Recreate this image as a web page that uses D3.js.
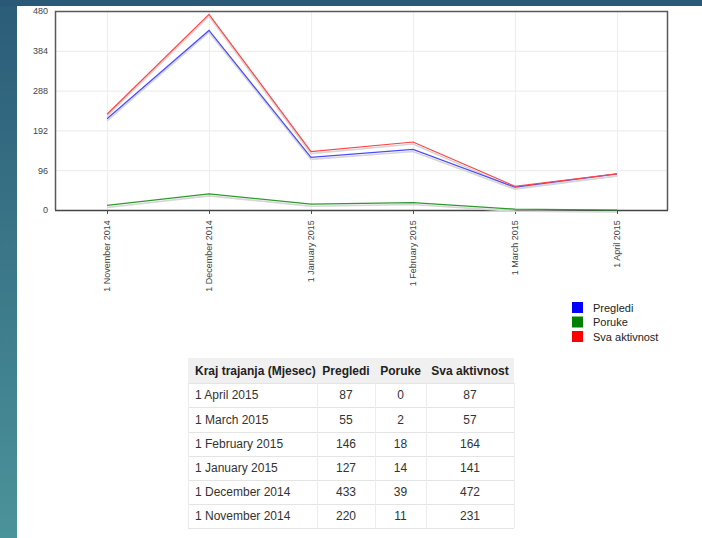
<!DOCTYPE html>
<html>
<head>
<meta charset="utf-8">
<script src="https://cdn.jsdelivr.net/npm/d3@7"></script>
<style>
  html, body { margin: 0; padding: 0; }
  body { width: 702px; height: 538px; overflow: hidden; font-family: "Liberation Sans", Arial, sans-serif; }
</style>
</head>
<body>
<svg id="chart" width="702" height="538"></svg>
<script>
// Monthly activity, chronological order
const months = ["1 November 2014", "1 December 2014", "1 January 2015", "1 February 2015", "1 March 2015", "1 April 2015"];
const pregledi = [220, 433, 127, 146, 55, 87];
const poruke = [11, 39, 14, 18, 2, 0];
const svaAktivnost = [231, 472, 141, 164, 57, 87];
const yTicks = [0, 96, 192, 288, 384, 480];
const tableHeaders = ["Kraj trajanja (Mjesec)", "Pregledi", "Poruke", "Sva aktivnost"];

const seriesDefs = [
  { name: "Pregledi", values: pregledi, color: "#4a4aff" },
  { name: "Poruke", values: poruke, color: "#2e9a2e" },
  { name: "Sva aktivnost", values: svaAktivnost, color: "#ff4444" }
];
const legendColors = ["#0000ff", "#008000", "#ff0000"];

const svg = d3.select("#chart");

// Page background: dark top band, teal left strip, white page
const defs = svg.append("defs");
const grad = defs.append("linearGradient").attr("id", "strip").attr("x1", 0).attr("y1", 0).attr("x2", 0).attr("y2", 1);
grad.append("stop").attr("offset", "0%").attr("stop-color", "#2b5c78");
grad.append("stop").attr("offset", "100%").attr("stop-color", "#4b939a");
svg.append("rect").attr("x", 0).attr("y", 0).attr("width", 702).attr("height", 538).attr("fill", "#fff");
svg.append("rect").attr("x", 0).attr("y", 0).attr("width", 17).attr("height", 538).attr("fill", "url(#strip)");
svg.append("rect").attr("x", 0).attr("y", 0).attr("width", 702).attr("height", 6).attr("fill", "#2a5877");

const plot = { left: 55, top: 11, right: 668, bottom: 210 };

const x = d3.scalePoint().domain(months).range([107, 617]);
const y = d3.scaleLinear().domain([0, 480]).range([plot.bottom, plot.top]);

const g = svg.append("g");

// Grid
g.selectAll("line.hgrid").data(yTicks.slice(1)).join("line")
  .attr("x1", plot.left).attr("x2", plot.right)
  .attr("y1", d => y(d) + 0.5).attr("y2", d => y(d) + 0.5)
  .attr("stroke", "#eeeeee").attr("stroke-width", 1.2);
g.selectAll("line.vgrid").data(months).join("line")
  .attr("x1", d => x(d) + 0.5).attr("x2", d => x(d) + 0.5)
  .attr("y1", plot.top).attr("y2", plot.bottom)
  .attr("stroke", "#eeeeee").attr("stroke-width", 1.2);

// Y axis labels
const yAxis = d3.axisLeft(y).tickValues(yTicks).tickSize(0).tickPadding(7);
const yG = svg.append("g").attr("transform", `translate(${plot.left},0)`).call(yAxis);
yG.select(".domain").remove();
yG.selectAll("text").attr("font-size", 9).attr("fill", "#444").attr("font-family", "Liberation Sans, Arial, sans-serif");

// X axis
const xAxis = d3.axisBottom(x).tickSize(4).tickPadding(5);
const xG = svg.append("g").attr("transform", `translate(0,${plot.bottom})`).call(xAxis);
xG.select(".domain").remove();
xG.selectAll(".tick line").attr("stroke", "#555");
xG.selectAll("text")
  .attr("font-size", 9).attr("fill", "#444").attr("font-family", "Liberation Sans, Arial, sans-serif")
  .attr("transform", "rotate(-90)")
  .attr("text-anchor", "end")
  .attr("dx", "-0.8em").attr("dy", "0.32em")
  .attr("y", 0).attr("x", -3);

// Frame
svg.append("path")
  .attr("d", `M${plot.left + 0.5},${plot.bottom} V${plot.top + 0.5} H${plot.right - 0.5} V${plot.bottom}`)
  .attr("fill", "none").attr("stroke", "#5a5a5a").attr("stroke-width", 1.5);
svg.append("line")
  .attr("x1", plot.left).attr("x2", plot.right)
  .attr("y1", plot.bottom + 0.5).attr("y2", plot.bottom + 0.5)
  .attr("stroke", "#444").attr("stroke-width", 1.5);

// Series lines with soft drop shadows
const line = d3.line().x((d, i) => x(months[i])).y(d => y(d));
const shadowG = svg.append("g").attr("transform", "translate(0,2)");
seriesDefs.forEach(s => {
  shadowG.append("path").datum(s.values).attr("d", line)
    .attr("fill", "none").attr("stroke", "#d6d6d6").attr("stroke-width", 1.6);
});
const lineG = svg.append("g");
seriesDefs.forEach(s => {
  lineG.append("path").datum(s.values).attr("d", line)
    .attr("fill", "none").attr("stroke", s.color).attr("stroke-width", 1.2);
});

// Legend
const legend = svg.append("g").attr("transform", "translate(572,302)");
seriesDefs.forEach((s, i) => {
  const row = legend.append("g").attr("transform", `translate(0,${i * 14.5})`);
  row.append("rect").attr("width", 11).attr("height", 11).attr("fill", legendColors[i]);
  row.append("text").attr("x", 21).attr("y", 9.5).text(s.name)
    .attr("font-size", 11).attr("fill", "#222");
});

// Data table (newest month first)
const rows = months.map((m, i) => [m, pregledi[i], poruke[i], svaAktivnost[i]]).reverse();
const colEdges = [188, 317, 375, 426, 514];
const rowEdges = [358, 383, 407, 432, 456, 480, 504, 528];
const table = svg.append("g");
table.append("rect").attr("x", colEdges[0]).attr("y", rowEdges[0])
  .attr("width", colEdges[4] - colEdges[0]).attr("height", rowEdges[1] - rowEdges[0]).attr("fill", "#f0f0f0");
// row borders
table.selectAll("line.rb").data(rowEdges.slice(1)).join("line")
  .attr("x1", colEdges[0]).attr("x2", colEdges[4])
  .attr("y1", d => d + 0.5).attr("y2", d => d + 0.5)
  .attr("stroke", "#e4e4e4");
table.selectAll("line.cb").data(colEdges).join("line")
  .attr("x1", d => d + 0.5).attr("x2", d => d + 0.5)
  .attr("y1", rowEdges[1]).attr("y2", rowEdges[rowEdges.length - 1])
  .attr("stroke", "#ececec");
tableHeaders.forEach((h, c) => {
  const cx = c === 0 ? colEdges[0] + 7 : (colEdges[c] + colEdges[c + 1]) / 2;
  table.append("text").attr("x", cx).attr("y", (rowEdges[0] + rowEdges[1]) / 2 + 4)
    .attr("text-anchor", c === 0 ? "start" : "middle")
    .attr("font-size", 12).attr("font-weight", "bold").attr("fill", "#222").text(h);
});
rows.forEach((r, ri) => {
  r.forEach((v, c) => {
    const cx = c === 0 ? colEdges[0] + 7 : (colEdges[c] + colEdges[c + 1]) / 2;
    table.append("text").attr("x", cx).attr("y", (rowEdges[ri + 1] + rowEdges[ri + 2]) / 2 + 4)
      .attr("text-anchor", c === 0 ? "start" : "middle")
      .attr("font-size", 12).attr("fill", "#333").text(v);
  });
});
</script>
</body>
</html>
